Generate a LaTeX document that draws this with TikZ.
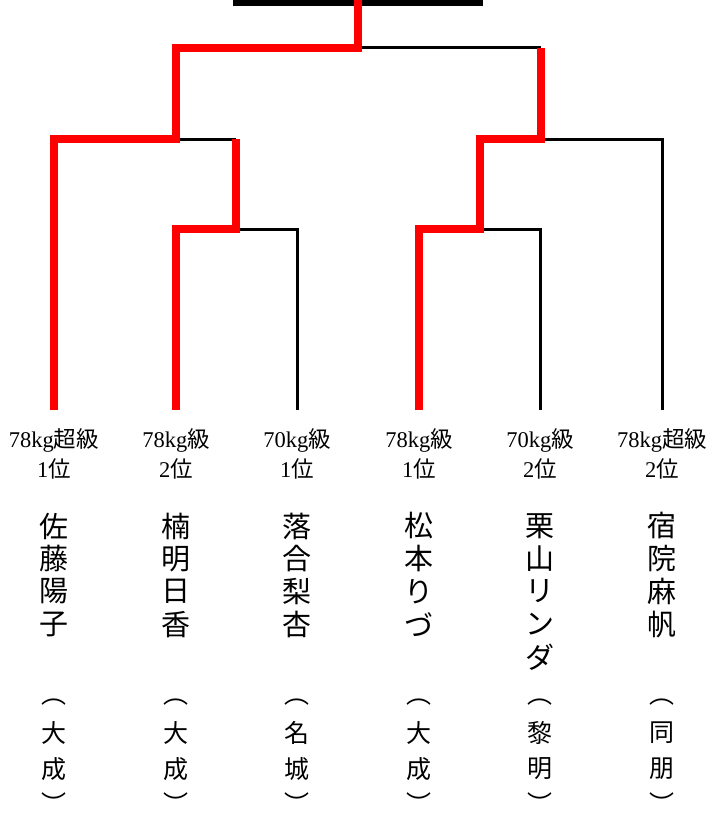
\documentclass[tikz,border=0pt]{standalone}
\usepackage{fontspec}
\setmainfont{Liberation Serif}
\newfontfamily\cjk{Noto Sans CJK JP}
\begin{document}
\begin{tikzpicture}[x=1pt,y=-1pt,
  bline/.style={line width=3pt,black},
  rline/.style={line width=8pt,red},
  boxline/.style={line width=6pt,black},
  lab/.style={font=\fontsize{22.5}{27}\selectfont,inner sep=0pt,anchor=base},
  nm/.style={font=\cjk\fontsize{29}{29}\selectfont,inner sep=0pt},
  aff/.style={font=\cjk\fontsize{25}{25}\selectfont,inner sep=0pt}]
\useasboundingbox (0,0) rectangle (710,816);
% coordinates
\foreach \i/\x in {1/54,2/176,3/297,4/419,5/540,6/662}
  \coordinate (p\i) at (\x,410);
\coordinate (top) at (358,-5);
\coordinate (a) at (358,48);
\coordinate (aL) at (176,48);
\coordinate (aR) at (541,48);
\coordinate (b1) at (54,139);
\coordinate (bL) at (176,139);
\coordinate (b2) at (236,139);
\coordinate (b4) at (480,139);
\coordinate (bR) at (541,139);
\coordinate (b6) at (662,139);
\coordinate (q1) at (176,229);
\coordinate (q2) at (236,229);
\coordinate (q3) at (297,229);
\coordinate (q4) at (419,229);
\coordinate (q5) at (480,229);
\coordinate (q6) at (540,229);
\coordinate (t1) at (236,-10);
\coordinate (t2) at (236,3);
\coordinate (t3) at (480,3);
\coordinate (t4) at (480,-10);
% top box
\draw[boxline] (t1) -- (t2) -- (t3) -- (t4);
% black lines
\draw[bline] (aL) -- (aR);
\draw[bline] (b1) -- (b2);
\draw[bline] (q1) -- (q3) -- (p3);
\draw[bline] (b4) -- (b6) -- (p6);
\draw[bline] (q4) -- (q6) -- (p5);
% red winners
\draw[rline] (p1) -- (b1) -- (bL) -- (aL) -- (a) -- (top);
\draw[rline] (p2) -- (q1) -- (q2) -- (b2);
\draw[rline] (p4) -- (q4) -- (q5) -- (b4) -- (bR) -- (aR);
% labels
\foreach \i/\x/\la/\lb in {1/54/{78kg{\cjk 超級}}/{1{\cjk 位}},
  2/176/{78kg{\cjk 級}}/{2{\cjk 位}},
  3/297/{70kg{\cjk 級}}/{1{\cjk 位}},
  4/419/{78kg{\cjk 級}}/{1{\cjk 位}},
  5/540/{70kg{\cjk 級}}/{2{\cjk 位}},
  6/662/{78kg{\cjk 超級}}/{2{\cjk 位}}}{
  \node[lab] (la\i) at (\x,447) {\la};
  \node[lab] (lb\i) at (\x,477) {\lb};
}
% names
\foreach \c [count=\k] in {佐,藤,陽,子}
  \node[nm] (n1-\k) at (54,{526+32.7*(\k-1)}) {\c};
\foreach \c [count=\k] in {楠,明,日,香}
  \node[nm] (n2-\k) at (176,{526+32.7*(\k-1)}) {\c};
\foreach \c [count=\k] in {落,合,梨,杏}
  \node[nm] (n3-\k) at (297,{526+32.7*(\k-1)}) {\c};
\foreach \c [count=\k] in {松,本,り,づ}
  \node[nm] (n4-\k) at (419,{526+32.7*(\k-1)}) {\c};
\foreach \c [count=\k] in {栗,山,リ,ン,ダ}
  \node[nm] (n5-\k) at (540,{526+32.7*(\k-1)}) {\c};
\foreach \c [count=\k] in {宿,院,麻,帆}
  \node[nm] (n6-\k) at (662,{526+32.7*(\k-1)}) {\c};
% affiliations
\foreach \i/\x/\sa/\sb in {1/54/大/成,2/176/大/成,3/297/名/城,4/419/大/成,5/540/黎/明,6/662/同/朋}{
  \node[aff] (s\i-0) at (\x,702) {︵};
  \node[aff] (s\i-1) at (\x,733) {\sa};
  \node[aff] (s\i-2) at (\x,769) {\sb};
  \node[aff] (s\i-3) at (\x,803) {︶};
}
\end{tikzpicture}
\end{document}
